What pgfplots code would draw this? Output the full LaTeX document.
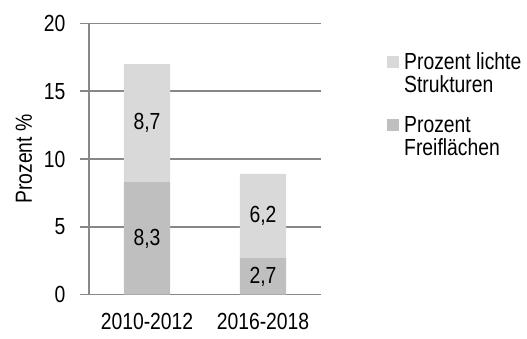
\documentclass[border=0pt]{standalone}
\usepackage{fontspec}
\setmainfont[FakeStretch=0.83]{Liberation Sans}
\usepackage{pgfplots}
\pgfplotsset{compat=1.18}
\definecolor{lichte}{HTML}{D9D9D9}
\definecolor{frei}{HTML}{BFBFBF}
\definecolor{gridgray}{HTML}{878787}
\begin{document}
\begin{tikzpicture}[font=\fontsize{23.3}{23}\selectfont]
\path[use as bounding box] (0,0) rectangle (527pt,338pt);
\begin{axis}[
  at={(89pt,43.3pt)}, anchor=south west,
  scale only axis, width=232pt, height=271.4pt,
  ybar stacked, bar width=0.4,
  xmin=0, xmax=2, ymin=0, ymax=20,
  ytick={0,5,10,15,20},
  xtick={0.5,1.5}, xticklabels={2010-2012,2016-2018},
  minor xtick={0,1,2},
  axis lines*=left,
  axis line style={gridgray, line width=1.4pt},
  ymajorgrids, major grid style={gridgray, line width=1.4pt},
  tick align=outside,
  major tick length=9pt, minor tick length=7pt,
  xtick style={draw=none},
  ytick style={gridgray, line width=1.4pt},
  minor x tick style={gridgray, line width=1.4pt},
  yticklabel style={xshift=-11pt},
  xticklabel style={yshift=-6pt},
  /pgf/number format/assume math mode=true,
  ylabel={Prozent \%},
  every axis y label/.style={at={(axis description cs:-0.2802,0.5)}, rotate=90, anchor=center},
  point meta=explicit,
  nodes near coords={\pgfmathprintnumber[fixed,precision=1,use comma]{\pgfplotspointmeta}},
  every node near coord/.append style={anchor=center},
  reverse legend, legend cell align=left,
  legend style={draw=none, fill=none, at={(1.2845,0.892)}, anchor=north west,
    inner sep=0pt, row sep=22pt, nodes={align=left, inner sep=0pt},
    /tikz/every odd column/.append style={column sep=5pt}},
  legend image code/.code={\fill[#1] (0pt,5.5pt) rectangle (12pt,17.5pt);},
]
% Freiflächen (unten)
\addplot[fill=frei, draw=none] coordinates {(0.5,8.3) [8.3] (1.5,2.7) [2.7]};
\addlegendentry{Prozent\\Freiflächen}
% lichte Strukturen (oben)
\addplot[fill=lichte, draw=none] coordinates {(0.5,8.7) [8.7] (1.5,6.2) [6.2]};
\addlegendentry{Prozent lichte\\Strukturen}
\end{axis}
\end{tikzpicture}
\end{document}
